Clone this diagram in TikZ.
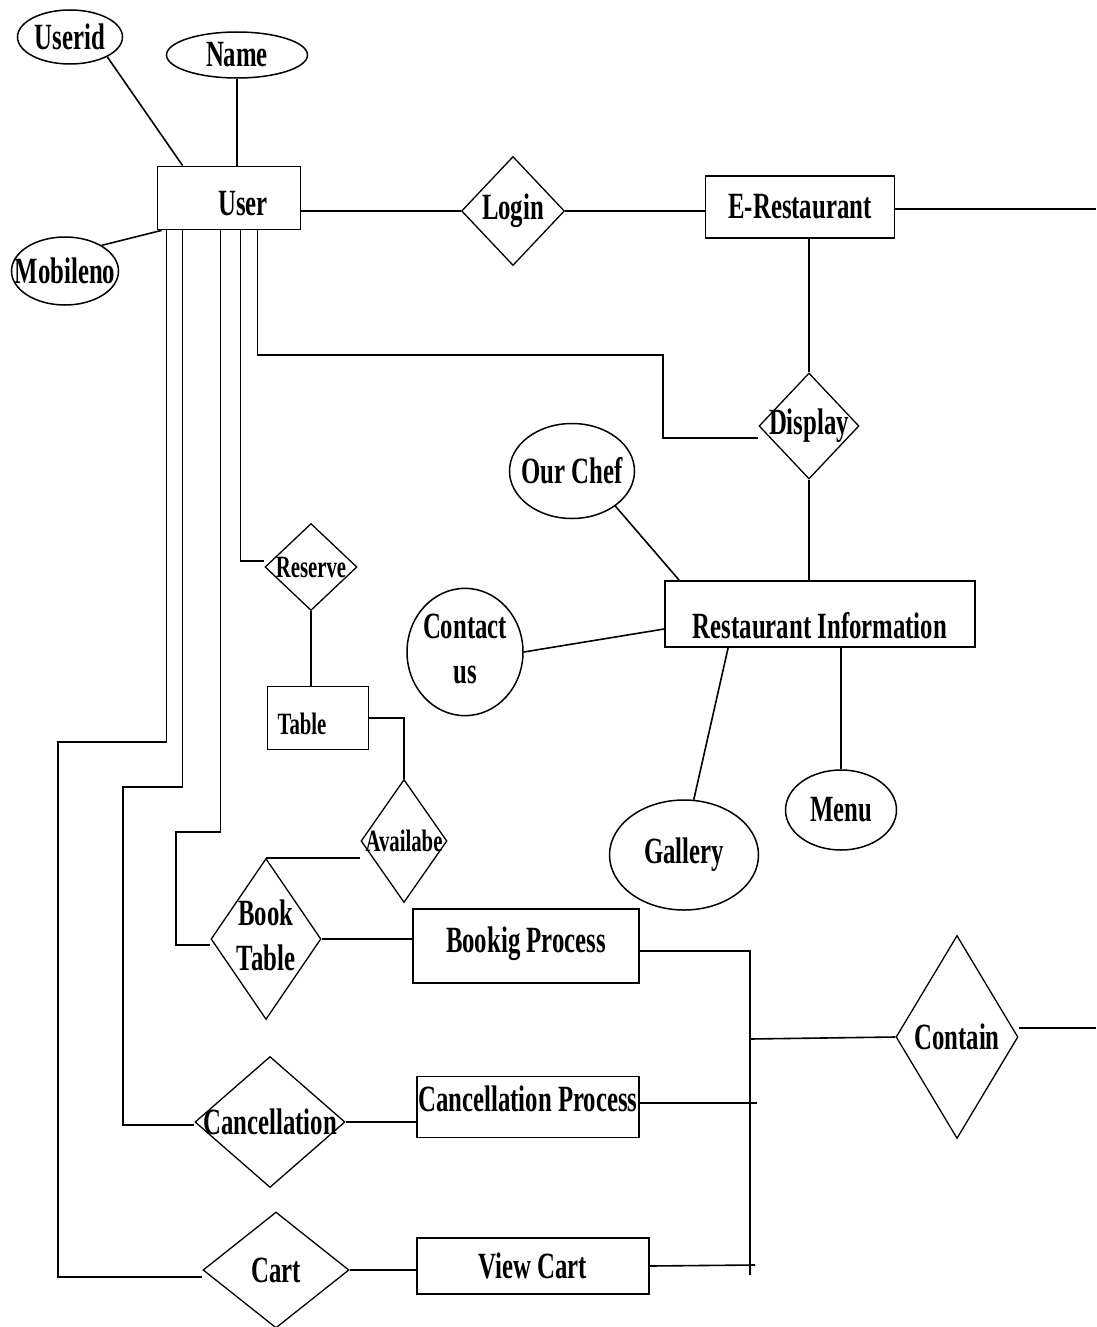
\documentclass[tikz,border=0pt]{standalone}
\usepackage{fontspec}
\setmainfont{Liberation Serif}[FakeStretch=0.67]
\usetikzlibrary{shapes.geometric}

\newcommand{\zb}[1]{\makebox[0pt]{#1}}
\newcommand{\tw}[2]{\makebox[0pt]{\begin{tabular}{@{}c@{}}#1\\#2\end{tabular}}}

\begin{document}
\begin{tikzpicture}[x=1pt, y=-1pt]
\tikzset{ent/.style={draw, rectangle, line width=1.8pt, inner sep=0pt, font=\bfseries\fontsize{37}{45}\selectfont}}
\tikzset{attr/.style={draw, ellipse, line width=1.5pt, inner sep=0pt, font=\bfseries\fontsize{37}{45}\selectfont}}
\tikzset{rel/.style={draw, diamond, line width=1.3pt, inner sep=0pt, font=\bfseries\fontsize{37}{45}\selectfont}}
\tikzset{small/.style={font=\bfseries\fontsize{31}{36}\selectfont}}
\tikzset{lnk/.style={line width=1.6pt}}
\useasboundingbox (0,0) rectangle (1096,1327);
% attributes of the user
\node[attr, minimum width=105pt, minimum height=54pt] (userid) at (70,37) {\zb{Userid}};
\node[attr, minimum width=141pt, minimum height=46pt] (name) at (237,55) {\zb{Name}};
\node[attr, minimum width=107pt, minimum height=68pt] (mobileno) at (65,271) {\zb{Mobileno}};
\node[ent, minimum width=143pt, minimum height=63pt, text height=35pt] (user) at (229,198) {\zb{\hspace{28pt}User}};
% top row
\node[rel, minimum width=103pt, minimum height=109pt] (login) at (513,211) {\zb{Login}};
\node[ent, minimum width=189pt, minimum height=62pt] (erest) at (800,207) {\zb{E-Restaurant}};
\node[rel, minimum width=100pt, minimum height=106pt] (display) at (809,426) {\zb{Display}};
% restaurant information
\node[ent, minimum width=310pt, minimum height=66pt, text height=49pt] (resinfo) at (820,614) {\zb{Restaurant Information}};
\node[attr, minimum width=125pt, minimum height=95pt] (chef) at (572,471) {\zb{Our Chef}};
\node[attr, minimum width=116pt, minimum height=125pt] (contact) at (465,652) {\tw{Contact}{us}};
\node[attr, minimum width=149pt, minimum height=110pt] (gallery) at (684,855) {\zb{Gallery}};
\node[attr, minimum width=111pt, minimum height=80pt] (menu) at (841,810) {\zb{Menu}};
% table booking
\node[rel, small, minimum width=92pt, minimum height=87pt] (reserve) at (311,567) {\zb{Reserve}};
\node[ent, small, minimum width=101pt, minimum height=63pt, text height=33pt] (table) at (318,718) {\zb{Table\hspace{32pt}}};
\node[rel, small, minimum width=86pt, minimum height=123pt] (avail) at (404,841) {\zb{Availabe}};
\node[rel, minimum width=110pt, minimum height=161pt] (booktab) at (266,939) {\tw{Book}{Table}};
\node[ent, minimum width=226pt, minimum height=74pt, text depth=13pt] (bookproc) at (526,946) {\zb{Bookig Process}};
\node[rel, minimum width=150pt, minimum height=131pt] (cancel) at (270,1122) {\zb{Cancellation}};
\node[ent, minimum width=222pt, minimum height=61pt, text depth=16pt] (cancproc) at (528,1107) {\zb{Cancellation Process}};
\node[rel, minimum width=146pt, minimum height=116pt] (cart) at (276,1270) {\zb{Cart}};
\node[ent, minimum width=232pt, minimum height=56pt] (viewcart) at (533,1266) {\zb{View Cart}};
\node[rel, minimum width=122pt, minimum height=203pt] (contain) at (957,1037) {\zb{Contain}};
% free ends
\coordinate (eR) at (1096,209);
\coordinate (cR) at (1096,1028);
\coordinate (bB) at (750,1275);
\coordinate (bJ) at (750,1039);
\coordinate (cpE) at (757,1103);
\coordinate (vcE) at (755,1265);
% connectors
\draw[lnk] (userid.-28) -- ([xshift=26pt]user.north west);
\draw[lnk] (name.south) -- (name.south |- user.north);
\draw[lnk] (mobileno.35) -- ([xshift=5pt]user.south west);
\draw[lnk] (user.east |- login.west) -- (login.west);
\draw[lnk] (login.east) -- (erest.west |- login.east);
\draw[lnk] (erest.east |- eR) -- (eR);
\draw[lnk] (display.north |- erest.south) -- (display.north);
\draw[lnk] (display.south) -- (display.south |- resinfo.north);
\draw[lnk] (chef.-39) -- ([xshift=15pt]resinfo.north west);
\draw[lnk] (contact.east) -- ([yshift=-15pt]resinfo.west);
\draw[lnk] ([xshift=64pt]resinfo.south west) -- (gallery.80);
\draw[lnk] (menu.north) -- (menu.north |- resinfo.south);
\draw[lnk] ([xshift=101pt]user.south west) |- (663,355) |- ([yshift=-12pt]display.west);
\draw[lnk] ([xshift=84pt]user.south west) |- ([yshift=6pt]reserve.west);
\draw[lnk] (reserve.south) -- (reserve.south |- table.north);
\draw[lnk] (table.east) -| (avail.north);
\draw[lnk] (booktab.north) -- (booktab.north -| avail.west);
\draw[lnk] ([xshift=64pt]user.south west) |- (176,832) |- ([yshift=-6pt]booktab.west);
\draw[lnk] ([xshift=26pt]user.south west) |- (123,787) |- ([yshift=-3pt]cancel.west);
\draw[lnk] ([xshift=10pt]user.south west) |- (58,742) |- ([yshift=-7pt]cart.west);
\draw[lnk] (booktab.east) -- (booktab.east -| bookproc.west);
\draw[lnk] (cancel.east) -- (cancel.east -| cancproc.west);
\draw[lnk] (cart.east) -- (cart.east -| viewcart.west);
\draw[lnk] ([yshift=-5pt]bookproc.east) -| (bB);
\draw[lnk] ([yshift=4pt]cancproc.east) -- (cpE);
\draw[lnk] (viewcart.east) -- (vcE);
\draw[lnk] (bJ) -- (contain.west);
\draw[lnk] ([yshift=9pt]contain.east) -- (cR);
\end{tikzpicture}
\end{document}
